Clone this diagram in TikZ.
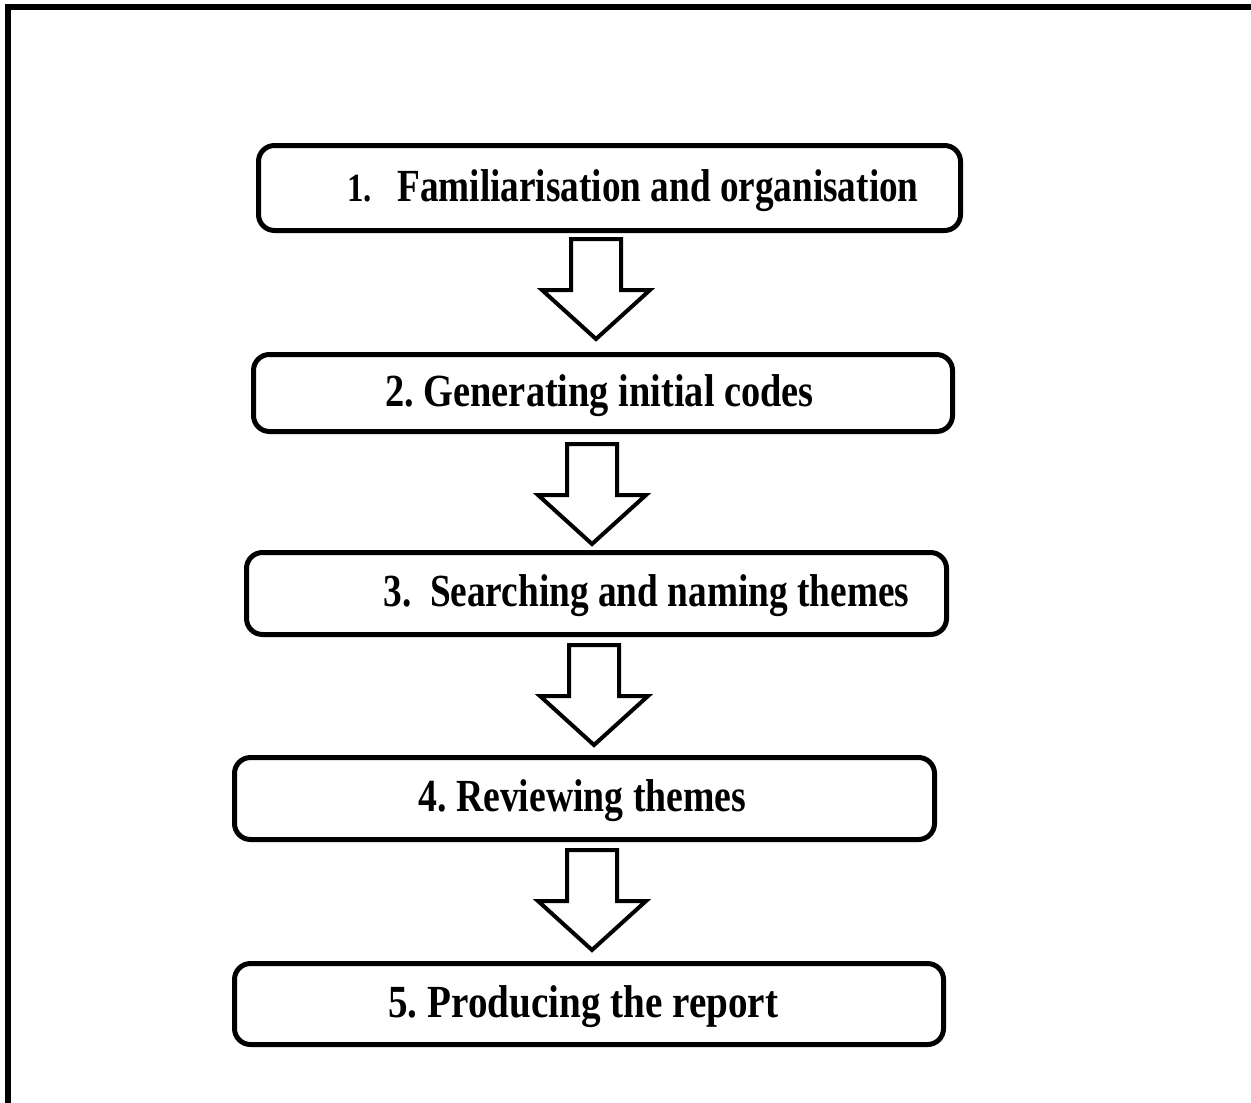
\documentclass[tikz,border=0pt]{standalone}
\usepackage{fontspec}
\setmainfont{Liberation Serif}
\newfontfamily\stagefont[FakeStretch=0.82]{Liberation Serif}
\usetikzlibrary{calc,fit}

% block arrow pointing down: #1 name, #2 x of axis, #3 top y
\newcommand\stagearrow[3]{%
  \coordinate (#1top) at (#2,#3);
  \coordinate (#1tip) at (#2,#3+100);
  \draw[blockarrow]
    ($(#1top)+(-25,0)$) -- ($(#1top)+(25,0)$) -- ($(#1top)+(25,51)$)
    -- ($(#1top)+(54,51)$) -- (#1tip) -- ($(#1top)+(-54,51)$)
    -- ($(#1top)+(-25,51)$) -- cycle;
}

\begin{document}
\begin{tikzpicture}[x=0.5pt,y=-0.5pt,
  stagebox/.style={draw=black, line width=2.5pt, rounded corners=8pt,
    fill=white, inner sep=0pt},
  stagetext/.style={anchor=base west, inner sep=0pt,
    font=\stagefont\bfseries\frenchspacing\fontsize{23pt}{27pt}\selectfont},
  stagenum/.style={anchor=base west, inner sep=0pt,
    font=\stagefont\bfseries\fontsize{20pt}{24pt}\selectfont},
  blockarrow/.style={draw=black, line width=2pt, fill=white, line join=miter},
]
\useasboundingbox (0,0) rectangle (1251,1102);

% outer frame, running off the page on the right and at the bottom
\begin{scope}
  \clip (0,0) rectangle (1251,1102);
  \draw[line width=3pt] (7.5,1300) -- (7.5,7.5) -- (1400,7.5);
\end{scope}

% stage boxes
\node[stagebox, fit={(258.5,145.5) (960.5,230.5)}] (b1) {};
\node[stagebox, fit={(253.5,354.5) (952.5,431.5)}] (b2) {};
\node[stagebox, fit={(246.5,552.5) (946.5,634.5)}] (b3) {};
\node[stagebox, fit={(234.5,757.5) (934.5,839.5)}] (b4) {};
\node[stagebox, fit={(234.5,963.5) (943.5,1044.5)}] (b5) {};

% stage labels
\node[stagenum]  (n1) at (347,201) {1.};
\node[stagetext] (t1) at (397,201) {\scalebox{0.987}[1]{Familiarisation and organisation}};
\node[stagetext] (t2) at (385,406) {\scalebox{1.017}[1]{2. Generating initial codes}};
\node[stagetext] (t3) at (383,606) {\scalebox{0.989}[1]{3.\ \ Searching and naming themes}};
\node[stagetext] (t4) at (418,811) {4. Reviewing themes};
\node[stagetext] (t5) at (388,1017) {\scalebox{1.037}[1]{5. Producing the report}};

% arrows between the stages
\stagearrow{a1}{596}{239}
\stagearrow{a2}{592}{444}
\stagearrow{a3}{594}{645}
\stagearrow{a4}{592}{850}
\end{tikzpicture}
\end{document}
